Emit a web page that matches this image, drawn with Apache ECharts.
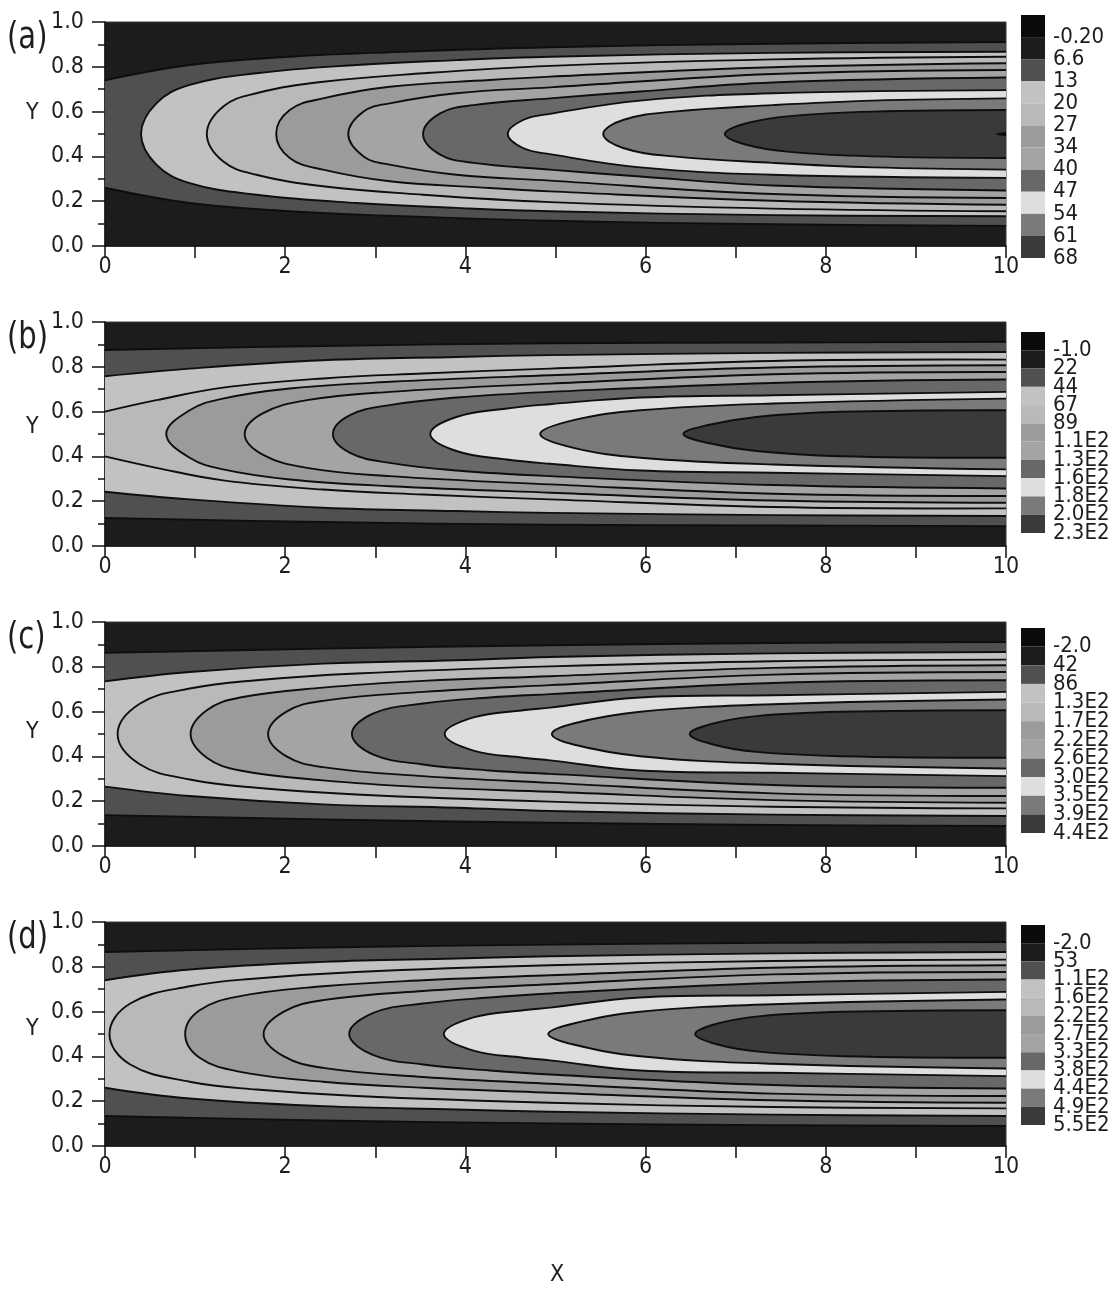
<!DOCTYPE html>
<html>
<head>
<meta charset="utf-8">
<script src="https://cdn.jsdelivr.net/npm/echarts@6/dist/echarts.min.js"></script>
<style>
  html, body { margin: 0; padding: 0; background: #ffffff; }
  #chart { width: 1114px; height: 1292px; }
</style>
</head>
<body>
<div id="chart"></div>
<script>
// Channel centreline: every isoline is symmetric about it.
const CENTRE_Y = 0.5;

// Upper branch of each isoline, [x, y], from the nose (y = centreline)
// or from the inlet wall (x = 0) out to x = 10. Outermost first.
const ISOLINES_A = [
  [[0, 0.74], [0.94, 0.808], [2.05, 0.845], [3.16, 0.865], [4.94, 0.887], [7.41, 0.903], [10, 0.91]],
  [[0.40, 0.5], [0.57, 0.637], [0.94, 0.719], [1.68, 0.771], [2.79, 0.808], [3.90, 0.830], [4.94, 0.845], [7.41, 0.862], [10, 0.867]],
  [[1.13, 0.5], [1.31, 0.622], [1.68, 0.682], [2.42, 0.733], [3.53, 0.771], [4.94, 0.804], [7.41, 0.833], [10, 0.845]],
  [[1.90, 0.5], [2.05, 0.607], [2.42, 0.659], [3.16, 0.711], [4.27, 0.741], [4.94, 0.756], [7.41, 0.798], [10, 0.816]],
  [[2.70, 0.5], [2.87, 0.600], [3.16, 0.637], [3.90, 0.682], [4.94, 0.708], [7.41, 0.768], [10, 0.786]],
  [[3.53, 0.5], [3.72, 0.592], [4.09, 0.629], [4.94, 0.659], [5.94, 0.690], [7.41, 0.730], [10, 0.752]],
  [[4.47, 0.5], [4.64, 0.5625], [4.94, 0.590], [5.94, 0.649], [7.41, 0.682], [10, 0.696]],
  [[5.53, 0.5], [5.75, 0.5625], [6.31, 0.600], [7.41, 0.629], [8.52, 0.649], [10, 0.659]],
  [[6.88, 0.5], [7.12, 0.548], [7.60, 0.580], [8.52, 0.600], [10, 0.607]],
  [[9.90, 0.5], [10, 0.505]]
];

const ISOLINES_B = [
  [[0, 0.875], [2.42, 0.893], [4.94, 0.905], [7.41, 0.908], [10, 0.912]],
  [[0, 0.758], [0.94, 0.792], [2.42, 0.829], [3.90, 0.844], [4.94, 0.852], [7.41, 0.862], [10, 0.866]],
  [[0, 0.600], [0.57, 0.651], [1.31, 0.707], [2.42, 0.748], [3.53, 0.770], [4.94, 0.792], [7.41, 0.826], [10, 0.832]],
  [[0.68, 0.5], [0.94, 0.606], [1.31, 0.658], [2.05, 0.703], [3.16, 0.733], [4.94, 0.762], [7.41, 0.797], [10, 0.807]],
  [[1.55, 0.5], [1.75, 0.592], [2.24, 0.651], [3.16, 0.688], [4.94, 0.725], [7.41, 0.767], [10, 0.777]],
  [[2.53, 0.5], [2.72, 0.584], [3.16, 0.629], [3.90, 0.663], [4.94, 0.688], [7.41, 0.728], [10, 0.743]],
  [[3.61, 0.5], [3.90, 0.576], [4.46, 0.614], [4.94, 0.633], [5.94, 0.663], [7.41, 0.673], [10, 0.688]],
  [[4.83, 0.5], [5.20, 0.562], [5.94, 0.606], [7.41, 0.636], [10, 0.658]],
  [[6.42, 0.5], [6.68, 0.539], [7.23, 0.576], [8.16, 0.599], [10, 0.606]]
];

const ISOLINES_C = [
  [[0, 0.862], [2.42, 0.881], [4.94, 0.896], [7.41, 0.906], [10, 0.911]],
  [[0, 0.735], [0.94, 0.777], [2.42, 0.814], [3.90, 0.829], [4.94, 0.844], [7.41, 0.860], [10, 0.866]],
  [[0.14, 0.5], [0.39, 0.636], [0.94, 0.703], [1.68, 0.740], [2.79, 0.770], [4.94, 0.802], [7.41, 0.825], [10, 0.832]],
  [[0.95, 0.5], [1.13, 0.606], [1.50, 0.663], [2.42, 0.707], [3.53, 0.737], [4.94, 0.758], [7.41, 0.795], [10, 0.807]],
  [[1.81, 0.5], [2.01, 0.599], [2.42, 0.648], [3.53, 0.688], [4.94, 0.718], [7.41, 0.765], [10, 0.777]],
  [[2.74, 0.5], [2.98, 0.592], [3.53, 0.636], [4.27, 0.663], [4.94, 0.678], [7.41, 0.728], [10, 0.740]],
  [[3.77, 0.5], [4.09, 0.574], [4.64, 0.606], [4.94, 0.618], [5.94, 0.663], [7.41, 0.673], [10, 0.688]],
  [[4.96, 0.5], [5.20, 0.547], [5.94, 0.599], [7.41, 0.633], [10, 0.654]],
  [[6.49, 0.5], [6.75, 0.547], [7.23, 0.580], [8.16, 0.599], [10, 0.606]]
];

const ISOLINES_D = [
  [[0, 0.866], [2.42, 0.886], [4.94, 0.899], [7.41, 0.907], [10, 0.911]],
  [[0, 0.740], [0.94, 0.788], [2.42, 0.822], [3.90, 0.837], [4.94, 0.847], [7.41, 0.860], [10, 0.866]],
  [[0.05, 0.5], [0.28, 0.636], [0.94, 0.713], [1.68, 0.748], [2.79, 0.777], [4.94, 0.807], [7.41, 0.826], [10, 0.832]],
  [[0.89, 0.5], [1.05, 0.606], [1.50, 0.669], [2.42, 0.713], [3.53, 0.740], [4.94, 0.762], [7.41, 0.796], [10, 0.807]],
  [[1.76, 0.5], [1.98, 0.599], [2.42, 0.651], [3.53, 0.692], [4.94, 0.722], [7.41, 0.766], [10, 0.777]],
  [[2.71, 0.5], [2.98, 0.594], [3.53, 0.636], [4.27, 0.663], [4.94, 0.681], [7.41, 0.728], [10, 0.743]],
  [[3.76, 0.5], [4.09, 0.574], [4.64, 0.606], [4.94, 0.618], [5.94, 0.663], [7.41, 0.673], [10, 0.688]],
  [[4.92, 0.5], [5.20, 0.547], [5.94, 0.599], [7.41, 0.633], [10, 0.654]],
  [[6.55, 0.5], [6.80, 0.547], [7.28, 0.580], [8.20, 0.599], [10, 0.606]]
];

// Contour level labels of each colour scale, top to bottom.
const LEVELS_A = ['-0.20', '6.6', '13', '20', '27', '34', '40', '47', '54', '61', '68'];
const LEVELS_B = ['-1.0', '22', '44', '67', '89', '1.1E2', '1.3E2', '1.6E2', '1.8E2', '2.0E2', '2.3E2'];
const LEVELS_C = ['-2.0', '42', '86', '1.3E2', '1.7E2', '2.2E2', '2.6E2', '3.0E2', '3.5E2', '3.9E2', '4.4E2'];
const LEVELS_D = ['-2.0', '53', '1.1E2', '1.6E2', '2.2E2', '2.7E2', '3.3E2', '3.8E2', '4.4E2', '4.9E2', '5.5E2'];

const PANEL_LETTERS = ['(a)', '(b)', '(c)', '(d)'];

// Grey scale of the bands, lowest level first.
const SHADES = ['#0b0b0b', '#1c1c1c', '#505050', '#c2c2c2', '#b9b9b9', '#9b9b9b', '#a4a4a4', '#686868', '#dedede', '#7a7a7a', '#3a3a3a'];

const FONT = '"Liberation Sans Narrow", "Arial Narrow", "DejaVu Sans Condensed", sans-serif';
const INK = '#1e1e1e';

const panels = [
  { lines: ISOLINES_A, levels: LEVELS_A, top: 22, legendTop: 15, legendHeight: 243, yLabelTop: 102 },
  { lines: ISOLINES_B, levels: LEVELS_B, top: 322, legendTop: 332, legendHeight: 201, yLabelTop: 416 },
  { lines: ISOLINES_C, levels: LEVELS_C, top: 622, legendTop: 628, legendHeight: 205, yLabelTop: 721 },
  { lines: ISOLINES_D, levels: LEVELS_D, top: 922, legendTop: 925, legendHeight: 200, yLabelTop: 1018 }
];

// Shade of the region enclosed by isoline k (background is SHADES[1]).
function shadeOf(k) {
  return k + 2 < SHADES.length ? SHADES[k + 2] : SHADES[0];
}

// Smooth cubic segments through pixel points (end points keep their tangent free).
function curveThrough(p, s) {
  const n = p.length;
  const cps = [];
  for (let i = 0; i < n; i++) {
    if (i === 0 || i === n - 1) { cps.push([p[i], p[i]]); continue; }
    const prev = p[i - 1], next = p[i + 1], cur = p[i];
    const vx = (next[0] - prev[0]) * s, vy = (next[1] - prev[1]) * s;
    const d0 = Math.hypot(cur[0] - prev[0], cur[1] - prev[1]);
    const d1 = Math.hypot(next[0] - cur[0], next[1] - cur[1]);
    const t0 = d0 / (d0 + d1 || 1), t1 = d1 / (d0 + d1 || 1);
    cps.push([[cur[0] - vx * t0, cur[1] - vy * t0], [cur[0] + vx * t1, cur[1] + vy * t1]]);
  }
  let d = '';
  for (let i = 0; i < n - 1; i++) {
    const a = cps[i][1], b = cps[i + 1][0], e = p[i + 1];
    d += ' C' + a[0].toFixed(2) + ' ' + a[1].toFixed(2) + ' ' + b[0].toFixed(2) + ' ' + b[1].toFixed(2) + ' ' + e[0].toFixed(2) + ' ' + e[1].toFixed(2);
  }
  return d;
}

function pt(q) { return q[0].toFixed(2) + ' ' + q[1].toFixed(2); }

// Path of one isoline in pixels; closed = region outline, open = drawn line only.
function isolinePath(pts, api, closed) {
  const up = pts.map(p => api.coord([p[0], p[1]]));
  const lo = pts.map(p => api.coord([p[0], 2 * CENTRE_Y - p[1]]));
  const S = 0.4;
  if (pts[0][1] === CENTRE_Y) {
    const seq = lo.slice(1).reverse().concat(up);
    return 'M' + pt(seq[0]) + curveThrough(seq, S) + (closed ? ' Z' : '');
  }
  const loRev = lo.slice().reverse();
  return 'M' + pt(up[0]) + curveThrough(up, S) + (closed ? ' L' : ' M') + pt(loRev[0]) + curveThrough(loRev, S) + (closed ? ' Z' : '');
}

const grid = [], xAxis = [], yAxis = [], series = [], graphic = [];

panels.forEach((pn, i) => {
  // contour panel
  grid.push({ left: 105, width: 901, top: pn.top, height: 224, show: true, backgroundColor: SHADES[1], borderColor: '#3a3a3a', borderWidth: 1 });
  const gi = grid.length - 1;
  xAxis.push({
    type: 'value', gridIndex: gi, min: 0, max: 10, interval: 2,
    axisLine: { onZero: false, lineStyle: { color: '#111', width: 1.5 } },
    axisTick: { length: 12, lineStyle: { color: '#111', width: 1.5 } },
    minorTick: { show: true, splitNumber: 2, length: 12, lineStyle: { color: '#111', width: 1.5 } },
    splitLine: { show: false },
    axisLabel: { margin: 10, fontFamily: FONT, fontSize: 23, color: INK }
  });
  yAxis.push({
    type: 'value', gridIndex: gi, min: 0, max: 1, interval: 0.2,
    axisLine: { onZero: false, lineStyle: { color: '#111', width: 1.5 } },
    axisTick: { length: 13, lineStyle: { color: '#111', width: 1.5 } },
    minorTick: { show: true, splitNumber: 2, length: 7, lineStyle: { color: '#111', width: 1.5 } },
    splitLine: { show: false },
    axisLabel: { margin: 21, fontFamily: FONT, fontSize: 23, color: INK, formatter: v => v.toFixed(1) }
  });
  const data = pn.lines.map((_, k) => [k]);
  series.push({
    type: 'custom', xAxisIndex: gi, yAxisIndex: gi, data, silent: true, animation: false, z: 2,
    renderItem: (params, api) => ({
      type: 'path',
      shape: { pathData: isolinePath(pn.lines[params.dataIndex], api, true) },
      style: { fill: shadeOf(params.dataIndex), stroke: null }
    })
  });
  series.push({
    type: 'custom', xAxisIndex: gi, yAxisIndex: gi, data, silent: true, animation: false, z: 3,
    renderItem: (params, api) => ({
      type: 'path',
      shape: { pathData: isolinePath(pn.lines[params.dataIndex], api, false) },
      style: { fill: 'none', stroke: '#0e0e0e', lineWidth: 1.9 }
    })
  });

  // colour scale: one tick per band boundary, level label at each lower boundary
  grid.push({ left: 1021, width: 24, top: pn.legendTop, height: pn.legendHeight });
  const li = grid.length - 1;
  xAxis.push({ type: 'value', gridIndex: li, min: 0, max: 1, show: false });
  yAxis.push({
    type: 'category', gridIndex: li, boundaryGap: false, inverse: true, position: 'right',
    data: [''].concat(pn.levels),
    axisLine: { show: false }, axisTick: { show: false }, splitLine: { show: false },
    axisLabel: {
      interval: 0, margin: 8, fontFamily: FONT, fontSize: 22, color: INK,
      showMinLabel: true, showMaxLabel: true, hideOverlap: false
    }
  });
  series.push({
    type: 'custom', xAxisIndex: li, yAxisIndex: li, silent: true, animation: false,
    data: pn.levels.map((_, k) => [k]),
    renderItem: (params, api) => {
      const a = api.coord([0, params.dataIndex]);
      const b = api.coord([1, params.dataIndex + 1]);
      return {
        type: 'rect',
        shape: { x: a[0], y: Math.min(a[1], b[1]), width: b[0] - a[0], height: Math.abs(b[1] - a[1]) },
        style: { fill: SHADES[params.dataIndex] }
      };
    }
  });

  graphic.push({ type: 'text', left: 7, top: pn.top - 3, scaleX: 0.85, style: { text: PANEL_LETTERS[i], font: '38px ' + FONT, fill: INK } });
  graphic.push({ type: 'text', left: 26, top: pn.yLabelTop, style: { text: 'Y', font: '23px ' + FONT, fill: INK } });
});

graphic.push({ type: 'text', left: 550, top: 1264, style: { text: 'X', font: '23px ' + FONT, fill: INK } });

const chart = echarts.init(document.getElementById('chart'), null, { renderer: 'canvas' });
chart.setOption({ animation: false, backgroundColor: '#ffffff', grid, xAxis, yAxis, series, graphic });
</script>
</body>
</html>
